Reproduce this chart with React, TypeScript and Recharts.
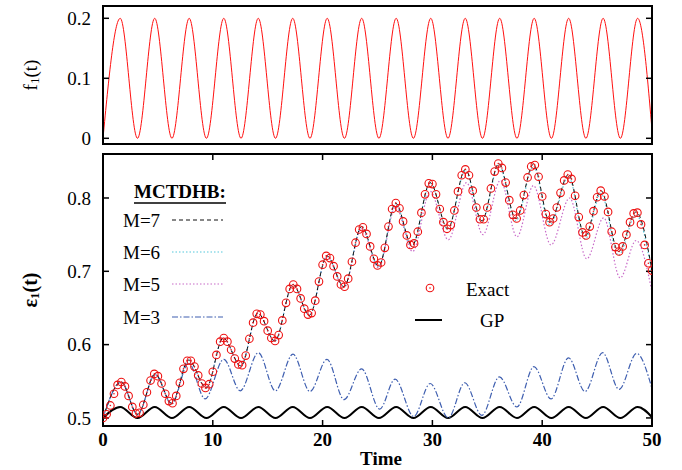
import React from "react"
import { LineChart, Line, XAxis, YAxis, Legend } from "recharts"

// troughs / peaks of the drive f1(t) and of the GP curve (both have period ~pi)
const driveTime = [
  0, 1.57, 3.14, 4.71, 6.28, 7.85, 9.42, 11.0, 12.57, 14.14, 15.71, 17.28, 18.85, 20.42, 21.99, 23.56,
  25.13, 26.7, 28.27, 29.85, 31.42, 32.99, 34.56, 36.13, 37.7, 39.27, 40.84, 42.41, 43.98, 45.55, 47.12,
  48.69, 50,
]
const f1Value = [
  0, 0.2, 0, 0.2, 0, 0.2, 0, 0.2, 0, 0.2, 0, 0.2, 0, 0.2, 0, 0.2, 0, 0.2, 0, 0.2, 0, 0.2, 0, 0.2, 0, 0.2,
  0, 0.2, 0, 0.2, 0, 0.2, 0.014,
]
const gpValue = [
  0.5, 0.515, 0.5, 0.515, 0.5, 0.515, 0.5, 0.515, 0.5, 0.515, 0.5, 0.515, 0.5, 0.515, 0.5, 0.515, 0.5,
  0.515, 0.5, 0.515, 0.5, 0.515, 0.5, 0.515, 0.5, 0.515, 0.5, 0.515, 0.5, 0.515, 0.5, 0.515, 0.501,
]

// MCTDHB M=7 (and M=6, on top of it) : turning points
const m7Time = [
  0, 1.65, 3.15, 4.75, 6.25, 7.8, 9.4, 10.95, 12.55, 14.1, 15.65, 17.3, 18.8, 20.4, 21.95, 23.55, 25.1,
  26.65, 28.15, 29.8, 31.4, 33.0, 34.5, 36.05, 37.6, 39.2, 40.7, 42.4, 43.9, 45.35, 46.95, 48.55, 50,
]
const m7Value = [
  0.5, 0.549, 0.505, 0.56, 0.52, 0.579, 0.541, 0.609, 0.571, 0.643, 0.605, 0.682, 0.64, 0.721, 0.679,
  0.761, 0.707, 0.793, 0.735, 0.821, 0.758, 0.839, 0.769, 0.847, 0.772, 0.846, 0.767, 0.832, 0.748, 0.81,
  0.727, 0.781, 0.701,
]
const m6Time = m7Time
const m6Value = [
  0.5, 0.549, 0.505, 0.56, 0.52, 0.579, 0.541, 0.609, 0.571, 0.643, 0.605, 0.682, 0.64, 0.721, 0.679,
  0.761, 0.707, 0.792, 0.734, 0.82, 0.757, 0.837, 0.767, 0.845, 0.769, 0.843, 0.763, 0.829, 0.744, 0.806,
  0.722, 0.777, 0.697,
]

const m5Time = [
  0, 1.65, 3.15, 4.75, 6.25, 7.8, 9.4, 10.95, 12.55, 14.1, 15.65, 17.3, 18.8, 20.4, 21.95, 23.55, 25.1,
  26.65, 28.2, 29.8, 31.45, 33.1, 34.6, 36.2, 37.7, 39.2, 40.8, 42.5, 44.05, 45.6, 47.1, 48.55, 50,
]
const m5Value = [
  0.5, 0.549, 0.505, 0.56, 0.52, 0.579, 0.541, 0.609, 0.571, 0.643, 0.605, 0.682, 0.64, 0.72, 0.678,
  0.758, 0.705, 0.788, 0.727, 0.809, 0.743, 0.821, 0.75, 0.824, 0.747, 0.817, 0.736, 0.8, 0.717, 0.773,
  0.691, 0.742, 0.672,
]

const m3Time = [
  0, 1.65, 3.15, 4.75, 6.25, 7.8, 9.3, 11.0, 12.5, 14.15, 15.7, 17.3, 18.85, 20.4, 21.95, 23.55, 25.2,
  26.6, 28.3, 29.8, 31.45, 32.95, 34.5, 36.1, 37.7, 39.25, 40.8, 42.4, 43.9, 45.5, 47.0, 48.6, 50,
]
const m3Value = [
  0.5, 0.549, 0.505, 0.559, 0.519, 0.575, 0.526, 0.58, 0.537, 0.589, 0.537, 0.587, 0.536, 0.58, 0.525,
  0.567, 0.512, 0.553, 0.502, 0.547, 0.5, 0.548, 0.5035, 0.556, 0.515, 0.57, 0.526, 0.582, 0.536, 0.589,
  0.539, 0.588, 0.54,
]

// exact result (open circles)
const exactTime = [
  0, 0.33, 0.67, 1, 1.33, 1.67, 2, 2.33, 2.67, 3, 3.33, 3.67, 4, 4.33, 4.67, 5, 5.33, 5.67, 6, 6.33,
  6.67, 7, 7.33, 7.67, 8, 8.33, 8.67, 9, 9.33, 9.67, 10, 10.33, 10.67, 11, 11.33, 11.67, 12, 12.33, 12.67,
  13, 13.33, 13.67, 14, 14.33, 14.67, 15, 15.33, 15.67, 16, 16.33, 16.67, 17, 17.33, 17.67, 18, 18.33,
  18.67, 19, 19.33, 19.67, 20, 20.33, 20.67, 21, 21.33, 21.67, 22, 22.33, 22.67, 23, 23.33, 23.67, 24,
  24.33, 24.67, 25, 25.33, 25.67, 26, 26.33, 26.67, 27, 27.33, 27.67, 28, 28.33, 28.67, 29, 29.33, 29.67,
  30, 30.33, 30.67, 31, 31.33, 31.67, 32, 32.33, 32.67, 33, 33.33, 33.67, 34, 34.33, 34.67, 35, 35.33,
  35.67, 36, 36.33, 36.67, 37, 37.33, 37.67, 38, 38.33, 38.67, 39, 39.33, 39.67, 40, 40.33, 40.67, 41,
  41.33, 41.67, 42, 42.33, 42.67, 43, 43.33, 43.67, 44, 44.33, 44.67, 45, 45.33, 45.67, 46, 46.33, 46.67,
  47, 47.33, 47.67, 48, 48.33, 48.67, 49, 49.33, 49.67, 50,
]
const exactValue = [
  0.5, 0.505, 0.517, 0.533, 0.545, 0.549, 0.543, 0.53, 0.515, 0.506, 0.507, 0.518, 0.535, 0.551, 0.56,
  0.557, 0.547, 0.533, 0.523, 0.52, 0.53, 0.548, 0.567, 0.578, 0.578, 0.57, 0.558, 0.547, 0.541, 0.546,
  0.563, 0.586, 0.604, 0.609, 0.604, 0.593, 0.581, 0.573, 0.572, 0.585, 0.608, 0.63, 0.642, 0.641, 0.632,
  0.619, 0.609, 0.605, 0.613, 0.633, 0.657, 0.676, 0.682, 0.676, 0.663, 0.649, 0.641, 0.643, 0.66, 0.686,
  0.709, 0.721, 0.718, 0.707, 0.693, 0.682, 0.679, 0.69, 0.713, 0.739, 0.757, 0.76, 0.751, 0.734, 0.717,
  0.708, 0.712, 0.732, 0.761, 0.785, 0.793, 0.786, 0.768, 0.749, 0.736, 0.738, 0.754, 0.78, 0.805, 0.82,
  0.819, 0.805, 0.785, 0.767, 0.758, 0.763, 0.783, 0.809, 0.831, 0.839, 0.831, 0.81, 0.787, 0.771, 0.771,
  0.787, 0.813, 0.836, 0.847, 0.841, 0.821, 0.797, 0.777, 0.772, 0.783, 0.804, 0.828, 0.843, 0.845, 0.829,
  0.802, 0.778, 0.767, 0.772, 0.787, 0.807, 0.824, 0.832, 0.826, 0.803, 0.774, 0.753, 0.749, 0.761, 0.782,
  0.801, 0.81, 0.802, 0.781, 0.754, 0.733, 0.727, 0.734, 0.75, 0.767, 0.779, 0.78, 0.764, 0.736, 0.711,
  0.701,
]

const timeTicks = [0, 10, 20, 30, 40, 50]
const innerTimeTicks = [10, 20, 30, 40]
const f1Ticks = [0, 0.1, 0.2]
const epsTicks = [0.5, 0.6, 0.7, 0.8]

const rows = (ts: number[], vs: number[]) => ts.map((t, i) => ({ t, v: vs[i] }))

const FONT = "Liberation Serif, 'Times New Roman', serif"
const RED = "#ee1111"
const frame = { stroke: "#000", strokeWidth: 2, strokeLinecap: "square" as const }
const tickLine = { stroke: "#000", strokeWidth: 1.5 }
const tickText = { fontSize: 19, fontFamily: FONT, fill: "#000" }
const blank = () => ""

const lineStyles = [
  { name: "M=7", color: "#111111", dash: "4 3" },
  { name: "M=6", color: "#55c8dc", dash: "1.5 2" },
  { name: "M=5", color: "#c86ac8", dash: "1.5 2" },
  { name: "M=3", color: "#3f5fb0", dash: "6 2 1.5 2" },
]

function ExactDot(props: any) {
  const { cx, cy } = props
  if (cx == null || cy == null) return null
  return (
    <g>
      <circle cx={cx} cy={cy} r={3.8} fill="none" stroke={RED} strokeWidth={1.1} />
      <circle cx={cx} cy={cy} r={0.8} fill={RED} />
    </g>
  )
}

function F1Title() {
  return (
    <text transform="translate(30,75) rotate(-90)" textAnchor="middle" dominantBaseline="central"
      fontFamily={FONT} fontSize={19} fill="#000">
      f<tspan dy={4} fontSize={13}>1</tspan><tspan dy={-4}>(t)</tspan>
    </text>
  )
}

function EpsTitle() {
  return (
    <text transform="translate(30,140) rotate(-90)" textAnchor="middle" dominantBaseline="central"
      fontFamily={FONT} fontSize={20} fontWeight="bold" fill="#000">
      ε<tspan dy={4} fontSize={13}>1</tspan><tspan dy={-4}>(t)</tspan>
    </text>
  )
}

function TimeTitle() {
  return (
    <text x={381} y={308} textAnchor="middle" dominantBaseline="central"
      fontFamily={FONT} fontSize={19} fontWeight="bold" fill="#000">
      Time
    </text>
  )
}

function LegendOverlay() {
  const rowY = [70, 102, 134, 167]
  return (
    <svg width={682} height={320} style={{ display: "block" }}>
      <g fontFamily={FONT} fontSize={19} fill="#000">
        <text x={134} y={48} fontWeight="bold">MCTDHB:</text>
        <line x1={134} x2={226} y1={53} y2={53} stroke="#000" strokeWidth={1.5} />
        {lineStyles.map((s, i) => (
          <g key={s.name}>
            <text x={123} y={rowY[i]} dominantBaseline="central">{s.name}</text>
            <line x1={172} x2={223} y1={rowY[i]} y2={rowY[i]} stroke={s.color} strokeWidth={1.2}
              strokeDasharray={s.dash} />
          </g>
        ))}
        <ExactDot cx={430} cy={138} />
        <text x={466} y={139} dominantBaseline="central">Exact</text>
        <line x1={415} x2={442} y1={170} y2={170} stroke="#000" strokeWidth={2} />
        <text x={480} y={170} dominantBaseline="central">GP</text>
      </g>
    </svg>
  )
}

function DrivePanel() {
  return (
    <LineChart width={682} height={150} margin={{ top: 5, right: 29, bottom: 5, left: 0 }}>
      <XAxis type="number" dataKey="t" domain={[0, 50]} height={1} tickFormatter={blank} tickLine={false}
        axisLine={frame} allowDataOverflow />
      <XAxis xAxisId="top" orientation="top" type="number" dataKey="t" domain={[0, 50]} height={1}
        tickFormatter={blank} tickLine={false} axisLine={frame} allowDataOverflow />
      <YAxis type="number" domain={[-0.0095, 0.2205]} ticks={f1Ticks} width={103} tickSize={-6}
        tickMargin={18} tick={tickText} tickLine={tickLine} axisLine={frame} allowDataOverflow
        label={<F1Title />} />
      <YAxis yAxisId="right" orientation="right" type="number" domain={[-0.0095, 0.2205]} ticks={f1Ticks}
        width={1} tickSize={-6} tickFormatter={blank} tickLine={tickLine} axisLine={frame}
        allowDataOverflow />
      <Line data={rows(driveTime, f1Value)} dataKey="v" type="monotone" stroke="#ff1010" strokeWidth={1}
        dot={false} isAnimationActive={false} />
    </LineChart>
  )
}

function EnergyPanel() {
  const [m7, m6, m5, m3] = lineStyles
  return (
    <LineChart width={682} height={320} margin={{ top: 3, right: 29, bottom: 0, left: 0 }}>
      <XAxis type="number" dataKey="t" domain={[0, 50]} ticks={timeTicks} height={44} tickSize={-6}
        tickMargin={13} tick={{ ...tickText, fontWeight: "bold" }} tickLine={tickLine} axisLine={frame}
        allowDataOverflow label={<TimeTitle />} />
      <XAxis xAxisId="top" orientation="top" type="number" dataKey="t" domain={[0, 50]}
        ticks={innerTimeTicks} height={1} tickSize={-6} tickFormatter={blank} tickLine={tickLine}
        axisLine={frame} allowDataOverflow />
      <YAxis type="number" domain={[0.489, 0.86]} ticks={epsTicks} width={103} tickSize={-6}
        tickMargin={18} tick={tickText} tickLine={tickLine} axisLine={frame} allowDataOverflow
        label={<EpsTitle />} />
      <YAxis yAxisId="right" orientation="right" type="number" domain={[0.489, 0.86]} ticks={epsTicks}
        width={1} tickSize={-6} tickFormatter={blank} tickLine={tickLine} axisLine={frame}
        allowDataOverflow />
      <Line data={rows(driveTime, gpValue)} dataKey="v" type="monotone" stroke="#000" strokeWidth={2}
        dot={false} isAnimationActive={false} />
      <Line data={rows(m3Time, m3Value)} dataKey="v" type="monotone" stroke={m3.color} strokeWidth={1.2}
        strokeDasharray={m3.dash} dot={false} isAnimationActive={false} />
      <Line data={rows(m5Time, m5Value)} dataKey="v" type="monotone" stroke={m5.color} strokeWidth={1.2}
        strokeDasharray={m5.dash} dot={false} isAnimationActive={false} />
      <Line data={rows(m6Time, m6Value)} dataKey="v" type="monotone" stroke={m6.color} strokeWidth={1.2}
        strokeDasharray={m6.dash} dot={false} isAnimationActive={false} />
      <Line data={rows(exactTime, exactValue)} dataKey="v" stroke="none"
        dot={(p: any) => <ExactDot key={p.index} {...p} />} activeDot={false} isAnimationActive={false} />
      <Line data={rows(m7Time, m7Value)} dataKey="v" type="monotone" stroke={m7.color} strokeWidth={1}
        strokeDasharray={m7.dash} dot={false} isAnimationActive={false} />
      <Legend layout="horizontal" verticalAlign="middle" align="center"
        wrapperStyle={{ left: 0, top: 0, width: 682, height: 320, pointerEvents: "none" }}
        content={() => <LegendOverlay />} />
    </LineChart>
  )
}

export default function App() {
  return (
    <div style={{ position: "absolute", left: 0, top: 0, width: 682, height: 470, background: "#fff" }}>
      <div style={{ position: "absolute", left: 0, top: 0 }}>
        <DrivePanel />
      </div>
      <div style={{ position: "absolute", left: 0, top: 150 }}>
        <EnergyPanel />
      </div>
    </div>
  )
}
